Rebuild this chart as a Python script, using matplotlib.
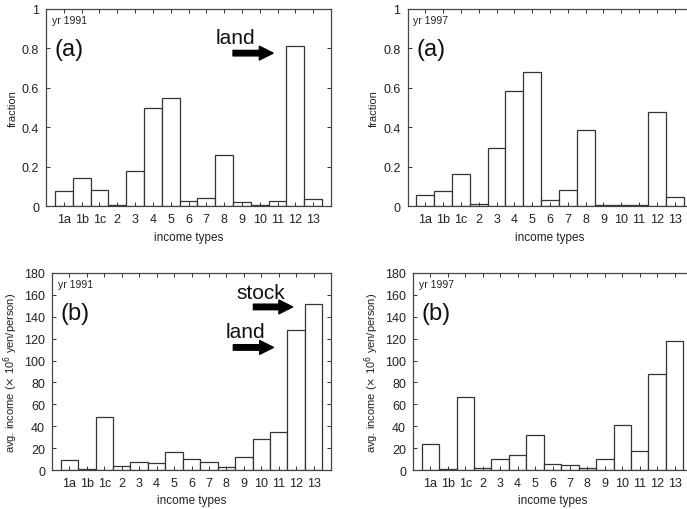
import matplotlib
matplotlib.use("Agg")
import matplotlib.pyplot as plt
import numpy as np

plt.rcParams['font.family'] = ['Liberation Sans', 'DejaVu Sans']

types = ['1a', '1b', '1c', '2', '3', '4', '5', '6', '7', '8', '9', '10', '11', '12', '13']

# fraction of taxpayers having each income type
frac_1991 = [0.075, 0.14, 0.08, 0.003, 0.18, 0.50, 0.55, 0.025, 0.04, 0.26,
             0.02, 0.003, 0.025, 0.81, 0.035]
frac_1997 = [0.055, 0.075, 0.16, 0.008, 0.295, 0.585, 0.68, 0.028, 0.08, 0.385,
             0.005, 0.003, 0.006, 0.475, 0.047]

# average income, 10^6 yen / person
avg_1991 = [9, 1, 48, 4, 7, 6, 16, 10.5, 7, 2.5, 12, 28, 35, 128, 152]
avg_1997 = [23.5, 0.5, 67, 2, 10.5, 13.5, 32, 5.5, 5, 2, 10.5, 41, 17.5, 88, 118]

W, H = 687, 510
fig = plt.figure(figsize=(W / 100, H / 100), dpi=100)


def px_axes(left, right, top, bottom):
    return fig.add_axes([left / W, 1 - bottom / H, (right - left) / W, (bottom - top) / H])


def panel(ax, vals, ymax, ystep, ylabel, year, tag):
    x = np.arange(1, len(types) + 1)
    ax.bar(x, vals, width=1.0, color='white', edgecolor='#333333', linewidth=0.9)
    ax.set_xlim(0, 16)
    ax.set_ylim(0, ymax)
    ax.set_xticks(x)
    ax.set_xticklabels(types)
    ticks = np.arange(0, ymax + ystep / 2, ystep)
    ax.set_yticks(ticks)
    if ymax == 1:
        ax.set_yticklabels(['0', '0.2', '0.4', '0.6', '0.8', '1'])
    ax.tick_params(direction='in', top=True, right=True, length=3, width=0.7,
                   labelsize=9, colors='#333333', labelcolor='#222222', pad=5)
    for s in ax.spines.values():
        s.set_color('#444444')
        s.set_linewidth(0.9)
    ax.set_xlabel('income types', fontsize=8.5, color='#222222', labelpad=4)
    ax.set_ylabel(ylabel, fontsize=8, color='#222222', labelpad=3)
    ax.text(0.02, 0.945, 'yr ' + year, transform=ax.transAxes, fontsize=7.5,
            va='center', ha='left', color='#222222')
    ax.text(0.03, 0.795, tag, transform=ax.transAxes, fontsize=17,
            va='center', ha='left', color='#111111')


def arrow(ax, label, x0, x1, ya, xt, yt):
    ax.annotate('', xy=(x1, ya), xytext=(x0, ya),
                arrowprops=dict(arrowstyle='simple,head_length=0.55,head_width=0.55,tail_width=0.22',
                                fc='black', ec='black', mutation_scale=18, shrinkA=0, shrinkB=0))
    ax.text(xt, yt, label, fontsize=15, ha='center', va='center', color='#111111')


ax1 = px_axes(46, 331, 10, 207)
panel(ax1, frac_1991, 1, 0.2, 'fraction', '1991', '(a)')
arrow(ax1, 'land', 10.5, 12.75, 0.776, 10.65, 0.855)

ax2 = px_axes(407.5, 692.5, 10, 207)
panel(ax2, frac_1997, 1, 0.2, 'fraction', '1997', '(a)')

ylab = r'avg. income ($\times$ 10$^6$ yen/person)'
ax3 = px_axes(52, 331, 274, 471)
panel(ax3, avg_1991, 180, 20, ylab, '1991', '(b)')
arrow(ax3, 'stock', 11.55, 13.8, 149, 11.95, 162)
arrow(ax3, 'land', 10.4, 12.7, 112, 11.1, 126.5)

ax4 = px_axes(413, 692, 274, 471)
panel(ax4, avg_1997, 180, 20, ylab, '1997', '(b)')

fig.savefig('out.png', dpi=100)
